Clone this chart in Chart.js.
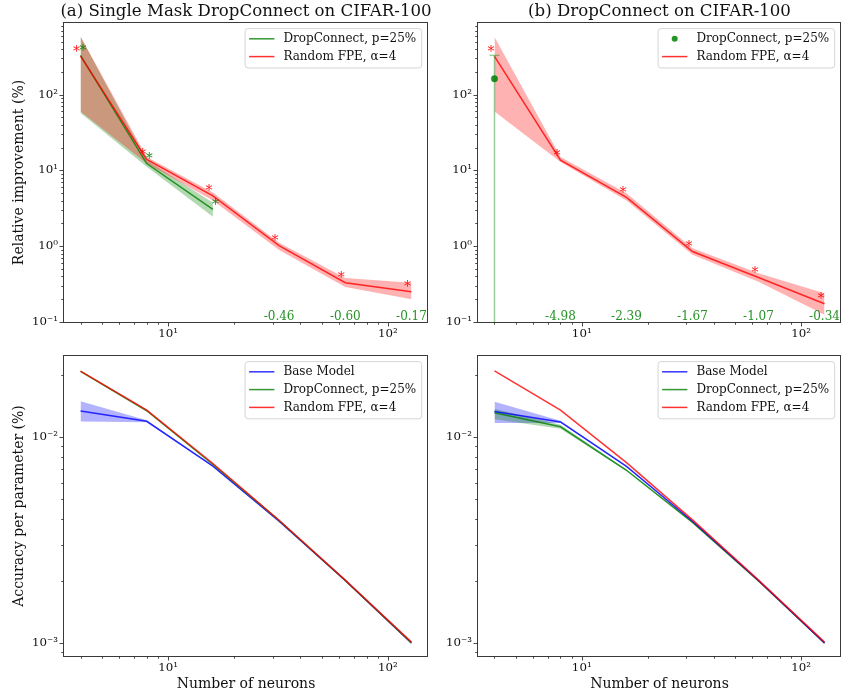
<!DOCTYPE html>
<html><head><meta charset="utf-8">
<script src="https://cdn.jsdelivr.net/npm/chart.js@4.4.1/dist/chart.umd.min.js"></script>
<style>
html,body{margin:0;padding:0;background:#fff;}
#wrap{position:relative;width:842px;height:695px;overflow:hidden;background:#fff;}
canvas{position:absolute;left:0;top:0;}
</style></head><body>
<div id="wrap">
<canvas id="ca" width="842" height="695"></canvas>
<canvas id="cb" width="842" height="695"></canvas>
<canvas id="cc" width="842" height="695"></canvas>
<canvas id="cd" width="842" height="695"></canvas>
</div>
<script>
// ---------------- data ----------------
const neurons = [4, 8, 16, 32, 64, 128];
const xDecades = [10, 100];
const yDecadesTop = [0.1, 1, 10, 100];
const yDecadesBottom = [0.001, 0.01];

// (a) Single Mask DropConnect - relative improvement (%)
const aFpeMean = [322, 14.0, 4.6, 1.02, 0.33, 0.25];
const aFpeHigh = [585, 15.0, 5.1, 1.11, 0.38, 0.33];
const aFpeLow  = [60, 12.3, 4.0, 0.89, 0.29, 0.20];
const aDcX = [4, 8, 16];
const aDcMean = [330, 12.3, 3.07];
const aDcHigh = [585, 13.6, 3.75];
const aDcLow  = [57, 11.2, 2.45];
const aDelta = [null, null, null, -0.46, -0.60, -0.17];

// (b) DropConnect - relative improvement (%)
const bFpeMean = [319, 13.6, 4.4, 0.85, 0.386, 0.174];
const bFpeHigh = [573, 15.0, 5.0, 0.94, 0.44, 0.24];
const bFpeLow  = [60, 12.9, 4.0, 0.77, 0.34, 0.125];
const bDcX = [4];
const bDcMean = [162];
const bDcErrTop = [329];
const bDcErrBottom = [0.0001];
const bDelta = [null, -4.98, -2.39, -1.67, -1.07, -0.34];

// (c) accuracy per parameter (%) - single mask
const cBaseMean = [0.01337, 0.01191, 0.00721, 0.00390, 0.00201, 0.00100];
const cBaseHigh = [0.0149, 0.01205, 0.00726, 0.00392, 0.00202, 0.00101];
const cBaseLow  = [0.01188, 0.01177, 0.00716, 0.00388, 0.00200, 0.00099];
const cDcMean   = [0.0208, 0.0134, 0.00735, 0.00393, 0.00201, 0.00100];
const cFpeMean  = [0.02085, 0.01348, 0.00743, 0.00394, 0.00202, 0.00101];

// (d) accuracy per parameter (%) - dropconnect
const dBaseMean = [0.0133, 0.01183, 0.00720, 0.00390, 0.00201, 0.00100];
const dBaseHigh = [0.0148, 0.01198, 0.00725, 0.00392, 0.00202, 0.00101];
const dBaseLow  = [0.0117, 0.01168, 0.00715, 0.00388, 0.00200, 0.00099];
const dDcMean   = [0.0131, 0.0112, 0.00689, 0.00385, 0.00200, 0.00100];
const dDcHigh   = [0.0137, 0.01145, 0.00695, 0.00388, 0.00201, 0.00101];
const dDcLow    = [0.0122, 0.01095, 0.00683, 0.00382, 0.00199, 0.00099];
const dFpeMean  = [0.0209, 0.0135, 0.0075, 0.00396, 0.00202, 0.00101];

// ---------------- styles ----------------
const RED = 'rgba(255,0,0,0.8)', GREEN = 'rgba(0,128,0,0.8)', BLUE = 'rgba(0,0,255,0.8)';
const RED_F = 'rgba(255,0,0,0.3)', GREEN_F = 'rgba(0,128,0,0.3)', BLUE_F = 'rgba(0,0,255,0.3)';
const FONT = '"DejaVu Serif", "Liberation Serif", serif';
const XMIN = 3.364, XMAX = 152.2;

const SUP = {'0':'⁰','1':'¹','2':'²','3':'³','4':'⁴','5':'⁵','6':'⁶','7':'⁷','8':'⁸','9':'⁹','-':'⁻'};
function sup(v){ const e = Math.round(Math.log10(v)); return '10' + String(e).split('').map(c=>SUP[c]).join(''); }
function pts(xs, ys){ return ys.map((v,i)=>({x:xs[i], y:v})); }

function builder(){
  const ds = [];
  return {
    ds,
    line(xs, ys, color, order){ ds.push({data: pts(xs,ys), borderColor: color, borderWidth: 1.5, pointRadius: 0, tension: 0, fill: false, order}); },
    band(xs, hi, lo, color, order){
      const loIdx = ds.length + 1;
      ds.push({data: pts(xs,hi), borderColor: 'rgba(0,0,0,0)', borderWidth: 0, pointRadius: 0, tension: 0, backgroundColor: color, fill: {target: loIdx}, order});
      ds.push({data: pts(xs,lo), borderColor: 'rgba(0,0,0,0)', borderWidth: 0, pointRadius: 0, tension: 0, fill: false, order: order + 1});
    }
  };
}

const decor = {
  id: 'decor',
  afterDraw(chart, args, o){
    const ctx = chart.ctx, ca = chart.chartArea, xs = chart.scales.x, ys = chart.scales.y;
    ctx.save();
    // stars
    (o.stars || []).forEach(s => {
      ctx.font = '14px ' + FONT; ctx.fillStyle = s.color; ctx.textAlign = 'center'; ctx.textBaseline = 'alphabetic';
      s.y.forEach((v,i) => {
        const px = xs.getPixelForValue(s.x[i]) + s.dx, py = ys.getPixelForValue(v);
        ctx.fillText('*', px, py - 0.5);
      });
    });
    // delta numbers
    if (o.delta){
      ctx.font = '12px ' + FONT; ctx.fillStyle = 'rgba(0,128,0,0.85)'; ctx.textAlign = 'center'; ctx.textBaseline = 'alphabetic';
      o.delta.forEach((v,i) => { if (v === null) return; ctx.fillText(v.toFixed(2), xs.getPixelForValue(neurons[i]), ca.bottom - 2.5); });
    }
    // frame
    ctx.strokeStyle = '#3a3a3a'; ctx.lineWidth = 1;
    const L = Math.round(ca.left) - 0.5, T = Math.round(ca.top) - 0.5, R = Math.round(ca.right) - 0.5, B = Math.round(ca.bottom) + 0.5;
    ctx.strokeRect(L, T, R - L, B - T);
    // ticks
    ctx.lineWidth = 0.9; ctx.strokeStyle = '#333';
    function logTicks(min, max, cb){
      for (let d = Math.floor(Math.log10(min)); d <= Math.ceil(Math.log10(max)); d++){
        for (let m = 1; m <= 9; m++){
          const v = m * Math.pow(10, d);
          if (v >= min * 0.9999 && v <= max * 1.0001) cb(v, m === 1);
        }
      }
    }
    logTicks(xs.min, xs.max, (v, major) => {
      const px = Math.round(xs.getPixelForValue(v)) + 0.5;
      ctx.beginPath(); ctx.moveTo(px, B); ctx.lineTo(px, B + (major ? 4 : 2.2)); ctx.stroke();
    });
    logTicks(ys.min, ys.max, (v, major) => {
      const py = Math.round(ys.getPixelForValue(v)) + 0.5;
      ctx.beginPath(); ctx.moveTo(L, py); ctx.lineTo(L - (major ? 4 : 2.2), py); ctx.stroke();
    });
    // title
    ctx.fillStyle = '#111'; ctx.textAlign = 'center'; ctx.textBaseline = 'alphabetic';
    if (o.title){ ctx.font = '16.6px ' + FONT; ctx.fillText(o.title, (ca.left + ca.right) / 2, 16); }
    if (o.xlabel){ ctx.font = '14px ' + FONT; ctx.fillText(o.xlabel, (ca.left + ca.right) / 2, 687.5); }
    if (o.ylabel){
      ctx.save(); ctx.font = '14px ' + FONT; ctx.translate(23, (ca.top + ca.bottom) / 2); ctx.rotate(-Math.PI / 2);
      ctx.fillText(o.ylabel, 0, 0); ctx.restore();
    }
    // legend
    if (o.legend){
      const items = o.legend;
      ctx.font = '12px ' + FONT;
      const tw = Math.max(...items.map(it => ctx.measureText(it.label).width));
      const w = 38.3 + tw + 5.5, h = 10.2 + 17.8 * (items.length - 1) + 11.4;
      const x0 = ca.right - 6.3 - w, y0 = ca.top + 5.6, r = 3;
      ctx.beginPath();
      ctx.moveTo(x0 + r, y0); ctx.lineTo(x0 + w - r, y0); ctx.quadraticCurveTo(x0 + w, y0, x0 + w, y0 + r);
      ctx.lineTo(x0 + w, y0 + h - r); ctx.quadraticCurveTo(x0 + w, y0 + h, x0 + w - r, y0 + h);
      ctx.lineTo(x0 + r, y0 + h); ctx.quadraticCurveTo(x0, y0 + h, x0, y0 + h - r);
      ctx.lineTo(x0, y0 + r); ctx.quadraticCurveTo(x0, y0, x0 + r, y0); ctx.closePath();
      ctx.fillStyle = 'rgba(255,255,255,0.8)'; ctx.fill();
      ctx.strokeStyle = 'rgba(204,204,204,0.8)'; ctx.lineWidth = 1; ctx.stroke();
      items.forEach((it, i) => {
        const y = y0 + 10.2 + 17.8 * i;
        if (it.type === 'dot'){
          ctx.fillStyle = it.color; ctx.beginPath(); ctx.arc(x0 + 16.6, y, 3, 0, Math.PI * 2); ctx.fill();
        } else {
          ctx.strokeStyle = it.color; ctx.lineWidth = 1.5; ctx.beginPath(); ctx.moveTo(x0 + 4, y); ctx.lineTo(x0 + 29.3, y); ctx.stroke();
        }
        ctx.fillStyle = '#111'; ctx.textAlign = 'left'; ctx.textBaseline = 'middle';
        ctx.fillText(it.label, x0 + 38.3, y + 0.5);
      });
    }
    ctx.restore();
  }
};

function makeChart(id, area, yMin, yMax, yDecades, datasets, deco){
  const yW = 40, xH = 20;
  return new Chart(document.getElementById(id), {
    type: 'line',
    data: {datasets},
    plugins: [decor],
    options: {
      responsive: false, animation: false, events: [],
      layout: {autoPadding: false, padding: {left: area.left - yW, top: area.top, right: 842 - area.right, bottom: 695 - area.bottom - xH}},
      plugins: {legend: {display: false}, tooltip: {enabled: false}, decor: deco},
      scales: {
        x: {
          type: 'logarithmic', min: XMIN, max: XMAX,
          grid: {display: false, drawTicks: false}, border: {display: false},
          afterBuildTicks: s => { s.ticks = xDecades.map(v => ({value: v})); },
          afterFit: s => { s.height = xH; },
          ticks: {autoSkip: false, maxRotation: 0, padding: 5, color: '#111', font: {family: FONT, size: 11.8}, callback: v => sup(v)}
        },
        y: {
          type: 'logarithmic', min: yMin, max: yMax,
          grid: {display: false, drawTicks: false}, border: {display: false},
          afterBuildTicks: s => { s.ticks = yDecades.map(v => ({value: v})); },
          afterFit: s => { s.width = yW; },
          ticks: {autoSkip: false, padding: 6, color: '#111', font: {family: FONT, size: 11.8}, callback: v => sup(v)}
        }
      }
    }
  });
}

// ---- (a)
const A = builder();
A.band(aDcX, aDcHigh, aDcLow, GREEN_F, 40);
A.band(neurons, aFpeHigh, aFpeLow, RED_F, 30);
A.line(aDcX, aDcMean, GREEN, 20);
A.line(neurons, aFpeMean, RED, 10);
makeChart('ca', {left: 64, top: 23, right: 428, bottom: 322}, 0.1, 880, yDecadesTop, A.ds, {
  title: '(a) Single Mask DropConnect on CIFAR-100',
  ylabel: 'Relative improvement (%)',
  stars: [{x: neurons, y: aFpeMean, color: 'rgba(255,0,0,0.9)', dx: -4}, {x: aDcX, y: aDcMean, color: 'rgba(0,128,0,0.9)', dx: 2.5}],
  delta: aDelta,
  legend: [{type: 'line', color: GREEN, label: 'DropConnect, p=25%'}, {type: 'line', color: RED, label: 'Random FPE, α=4'}]
});

// ---- (b)
const Bb = builder();
Bb.band(neurons, bFpeHigh, bFpeLow, RED_F, 30);
Bb.line(neurons, bFpeMean, RED, 20);
Bb.ds.push({data: [{x: bDcX[0], y: bDcErrTop[0]}, {x: bDcX[0], y: bDcErrBottom[0]}], borderColor: 'rgba(0,128,0,0.4)', borderWidth: 1.5,
  pointStyle: 'line', pointRadius: [5, 0], pointBorderColor: 'rgba(0,128,0,0.4)', pointBorderWidth: 1.5, tension: 0, fill: false, order: 5});
Bb.ds.push({data: pts(bDcX, bDcMean), showLine: false, pointRadius: 3.2, pointBackgroundColor: 'rgba(0,128,0,0.85)', pointBorderColor: 'rgba(0,128,0,0.85)', pointBorderWidth: 0.5, order: 1});
makeChart('cb', {left: 478, top: 23, right: 841, bottom: 322}, 0.1, 880, yDecadesTop, Bb.ds, {
  title: '(b) DropConnect on CIFAR-100',
  stars: [{x: neurons, y: bFpeMean, color: 'rgba(255,0,0,0.9)', dx: -3.5}],
  delta: bDelta,
  legend: [{type: 'dot', color: 'rgba(0,128,0,0.85)', label: 'DropConnect, p=25%'}, {type: 'line', color: RED, label: 'Random FPE, α=4'}]
});

// ---- (c)
const C = builder();
C.band(neurons, cBaseHigh, cBaseLow, BLUE_F, 40);
C.line(neurons, cBaseMean, BLUE, 30);
C.line(neurons, cDcMean, GREEN, 20);
C.line(neurons, cFpeMean, RED, 10);
makeChart('cc', {left: 64, top: 356, right: 428, bottom: 656}, 0.000865, 0.0247, yDecadesBottom, C.ds, {
  xlabel: 'Number of neurons',
  ylabel: 'Accuracy per parameter (%)',
  legend: [{type: 'line', color: BLUE, label: 'Base Model'}, {type: 'line', color: GREEN, label: 'DropConnect, p=25%'}, {type: 'line', color: RED, label: 'Random FPE, α=4'}]
});

// ---- (d)
const D = builder();
D.band(neurons, dBaseHigh, dBaseLow, BLUE_F, 50);
D.band(neurons, dDcHigh, dDcLow, GREEN_F, 40);
D.line(neurons, dDcMean, GREEN, 30);
D.line(neurons, dBaseMean, BLUE, 20);
D.line(neurons, dFpeMean, RED, 10);
makeChart('cd', {left: 478, top: 356, right: 841, bottom: 656}, 0.000865, 0.0247, yDecadesBottom, D.ds, {
  xlabel: 'Number of neurons',
  legend: [{type: 'line', color: BLUE, label: 'Base Model'}, {type: 'line', color: GREEN, label: 'DropConnect, p=25%'}, {type: 'line', color: RED, label: 'Random FPE, α=4'}]
});
</script>
</body></html>
